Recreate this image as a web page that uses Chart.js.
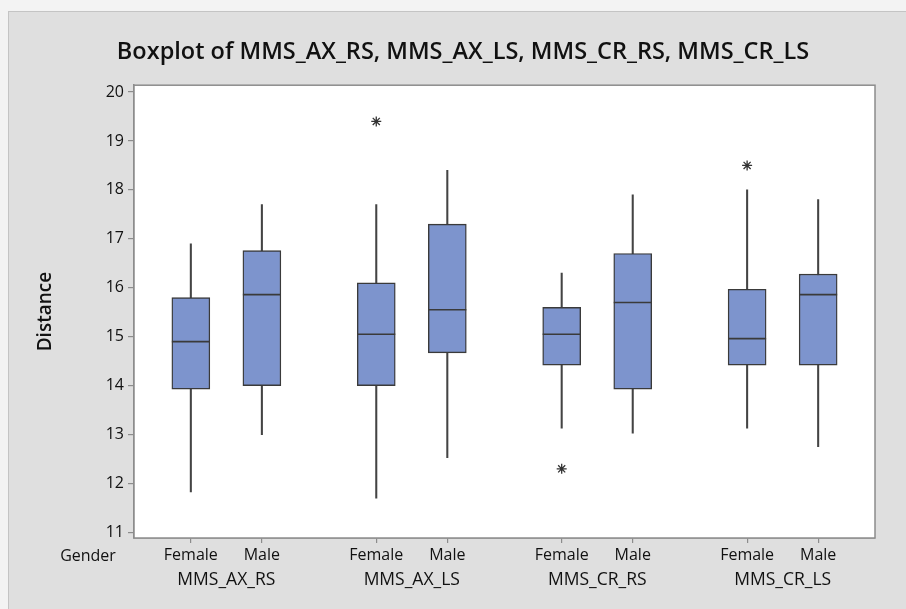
<!DOCTYPE html>
<html>
<head>
<meta charset="utf-8">
<script src="https://cdn.jsdelivr.net/npm/chart.js@4/dist/chart.umd.min.js"></script>
<style>
  html, body { margin: 0; padding: 0; background: #f3f3f3; }
  #frame { position: absolute; left: 8px; top: 11px; width: 898px; height: 598px;
           background: #dfdfdf; border-left: 1px solid #c4c4c4; border-top: 1px solid #c4c4c4;
           box-sizing: border-box; }
  #wrap { position: absolute; left: 0; top: 0; width: 906px; height: 609px; }
</style>
</head>
<body>
<div id="frame"></div>
<div id="wrap"><canvas id="c" width="906" height="609"></canvas></div>
<script>
// Measurements per variable, split by gender (Female, Male)
const variables = ['MMS_AX_RS', 'MMS_AX_LS', 'MMS_CR_RS', 'MMS_CR_LS'];
const genders = ['Female', 'Male'];
const factorName = 'Gender';

// One entry per box, ordered variable by variable, Female then Male
const whiskerLow  = [11.83, 13.00, 11.70, 12.53, 13.13, 13.03, 13.13, 12.75];
const q1          = [13.93, 14.00, 14.00, 14.67, 14.42, 13.93, 14.42, 14.42];
const median      = [14.90, 15.86, 15.05, 15.55, 15.05, 15.70, 14.96, 15.86];
const q3          = [15.80, 16.76, 16.10, 17.30, 15.60, 16.70, 15.97, 16.28];
const whiskerHigh = [16.90, 17.70, 17.70, 18.40, 16.30, 17.90, 18.00, 17.80];
const outliers    = [[], [], [19.4], [], [12.3], [], [18.5], []];

// Horizontal layout: boxes of one variable sit one unit apart, variables further apart
const groupStep = 2.61;
const boxPos = [];
variables.forEach((v, g) => genders.forEach((s, k) => boxPos.push(g * groupStep + k)));
const groupPos = variables.map((v, g) => g * groupStep + 0.5);
const xMin = -0.8;
const xMax = 3 * groupStep + 1.8;

const FONT = "'Open Sans', 'Noto Sans', sans-serif";
const INK = '#3a3a3a';
const PAD_LEFT = 51;

const boxData = boxPos.map((x, i) => ({ x, y: [q1[i], q3[i]] }));
const whiskerData = boxPos.map((x, i) => ({ x, y: [whiskerLow[i], whiskerHigh[i]] }));
const medianData = boxPos.map((x, i) => ({ x, y: median[i] }));
const outlierData = [];
boxPos.forEach((x, i) => outliers[i].forEach(v => outlierData.push({ x, y: v })));

const plotFrame = {
  id: 'plotFrame',
  beforeDatasetsDraw(chart) {
    const { ctx, chartArea: a } = chart;
    ctx.save();
    ctx.fillStyle = '#ffffff';
    ctx.fillRect(a.left, a.top, a.right - a.left, a.bottom - a.top);
    ctx.restore();
  },
  afterDatasetsDraw(chart) {
    const { ctx, chartArea: a } = chart;
    ctx.save();
    ctx.strokeStyle = '#8c8c8c';
    ctx.lineWidth = 1.5;
    ctx.strokeRect(a.left, a.top, a.right - a.left, a.bottom - a.top);
    ctx.restore();
  },
  afterDraw(chart) {
    const { ctx } = chart;
    const xs = chart.scales.x;
    ctx.save();
    ctx.font = '16px ' + FONT;
    ctx.fillStyle = '#111';
    ctx.textAlign = 'center';
    ctx.textBaseline = 'middle';
    ctx.fillText(factorName, 88, xs.top + 18);
    ctx.restore();
  }
};

new Chart(document.getElementById('c'), {
  type: 'bar',
  data: {
    datasets: [
      {
        type: 'scatter', data: medianData, order: 0,
        pointStyle: 'line', pointRadius: 19, pointHoverRadius: 19,
        pointBorderWidth: 1.6, borderColor: INK, backgroundColor: INK, showLine: false
      },
      {
        type: 'scatter', data: outlierData, order: 0,
        pointStyle: 'star', pointRadius: 5, pointHoverRadius: 5,
        pointBorderWidth: 1.3, borderColor: '#333', backgroundColor: '#333', showLine: false
      },
      {
        data: boxData, order: 1, grouped: false, barThickness: 38,
        backgroundColor: '#7d94cd', borderColor: INK, borderWidth: 1.4, borderSkipped: false
      },
      {
        data: whiskerData, order: 2, grouped: false, barThickness: 1.4,
        backgroundColor: '#444', borderWidth: 0
      }
    ]
  },
  options: {
    responsive: false,
    animation: false,
    events: [],
    layout: { padding: { left: PAD_LEFT, right: 31, top: 0, bottom: 11 } },
    plugins: {
      legend: { display: false },
      tooltip: { enabled: false },
      title: {
        display: true,
        text: 'Boxplot of ' + variables.join(', '),
        color: '#111',
        font: { family: FONT, size: 23.5, weight: '600', lineHeight: 1.2 },
        padding: { top: 38, bottom: 19 }
      }
    },
    scales: {
      x: {
        type: 'linear',
        position: 'bottom',
        offset: false,
        weight: 1,
        min: xMin,
        max: xMax,
        afterBuildTicks(scale) { scale.ticks = boxPos.map(v => ({ value: v })); },
        afterFit(scale) { scale.height = 30; },
        ticks: {
          autoSkip: false, maxRotation: 0, padding: 3,
          color: '#111', font: { family: FONT, size: 16 },
          callback: (v, i) => genders[i % genders.length]
        },
        grid: { display: true, offset: false, drawOnChartArea: false, drawTicks: true, tickLength: 5, color: '#8c8c8c', lineWidth: 1.2 },
        border: { display: true, color: '#8c8c8c', width: 1.5 }
      },
      x2: {
        type: 'linear',
        position: 'bottom',
        offset: false,
        weight: 2,
        min: xMin,
        max: xMax,
        afterBuildTicks(scale) { scale.ticks = groupPos.map(v => ({ value: v })); },
        afterFit(scale) { scale.height = 30; },
        ticks: {
          autoSkip: false, maxRotation: 0, padding: 2,
          color: '#111', font: { family: FONT, size: 17.5 },
          callback: (v, i) => variables[i]
        },
        grid: { display: false, drawTicks: false },
        border: { display: false }
      },
      y: {
        type: 'linear',
        min: 10.886,
        max: 20.14,
        afterFit(scale) { scale.width = 134 - PAD_LEFT; },
        ticks: {
          stepSize: 1, includeBounds: false, padding: 4,
          color: '#111', font: { family: FONT, size: 16 }
        },
        grid: { display: true, drawOnChartArea: false, drawTicks: true, tickLength: 6, color: '#8c8c8c', lineWidth: 1.2 },
        border: { display: true, color: '#8c8c8c', width: 1.5 },
        title: {
          display: true, text: 'Distance', color: '#111',
          font: { family: FONT, size: 19, weight: '600', lineHeight: 1.2 },
          padding: { top: 34 - PAD_LEFT, bottom: 0 }
        }
      }
    }
  },
  plugins: [plotFrame]
});
</script>
</body>
</html>
